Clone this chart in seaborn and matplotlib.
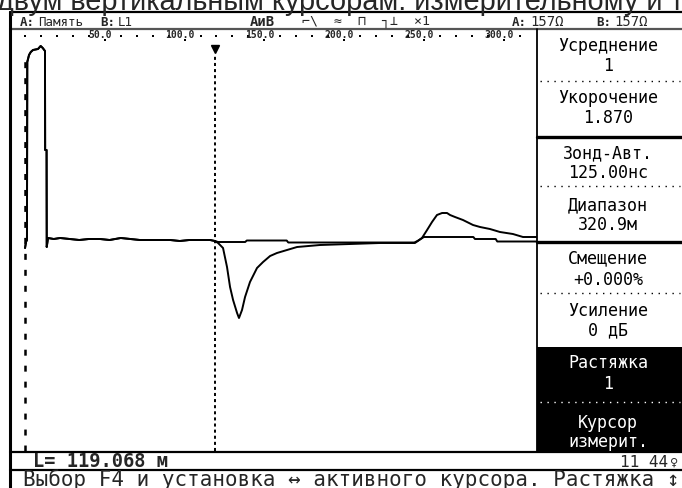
import numpy as np
import pandas as pd
import matplotlib
matplotlib.use("Agg")
import matplotlib.pyplot as plt
import matplotlib.transforms as mtransforms
from matplotlib.lines import Line2D
from matplotlib.patches import Rectangle
import seaborn as sns

W, H = 682, 488

# reflectogram: distance (m) and amplitude (screen units, baseline = 0)
pulse_dist = [0.0, 0.6, 1.2, 1.4, 2.5, 3.6, 5.0, 8.1, 9.8, 11.1, 12.5, 12.6, 13.5, 13.6, 14.4,
              18.0, 22.0, 28.0, 34.0, 40.0, 47.0, 53.0, 60.0, 66.0, 72.0, 78.0, 85.0, 91.0,
              97.0, 103.0, 110.0, 116.0, 119.0]
pulse_amp = [-8, -2, 0, 178, 185, 188, 190, 191, 194, 192, 189, 90, 90, -7, 2,
             1, 2, 1, 0, 1, 1, 0, 2, 1, 0, 0, 0, 0, -1, 0, 0, 0, -1]

tail_a_dist = [121.0, 124.1, 126.6, 128.5, 130.4, 132.9, 134.1, 136.0, 137.9, 141.0, 145.4,
               149.2, 153.6, 157.9, 164.2, 170.5, 184.9, 203.7, 222.5, 244.4, 248.8, 252.0,
               255.1, 258.2, 261.4, 264.5, 266.4, 269.5, 274.5, 280.8, 285.2, 291.4, 297.7,
               305.8, 312.1, 320.9]
tail_a_amp = [-3, -8, -27, -47, -60, -73, -78, -70, -57, -42, -28, -22, -16, -13, -10, -7,
              -5, -4, -3, -3, 2, 10, 18, 25, 27, 27, 25, 23, 20, 15, 13, 11, 8, 6, 3, 3]

tail_b_dist = [121.0, 138.0, 139.0, 164.0, 165.0, 244.0, 246.0, 250.0, 281.0, 282.0,
               295.0, 296.0, 320.9]
tail_b_amp = [-2, -2, -0.5, -0.5, -2.5, -2.5, -1, 3, 3, 1, 1, -1.5, -1.5]

cursor_m = 119.068
x_ticks = [50, 100, 150, 200, 250, 300]
x_labels = ["50.0", "100.0", "150.0", "200.0", "250.0", "300.0"]

menu_titles = ["Усреднение", "Укорочение", "Зонд-Авт.", "Диапазон",
               "Смещение", "Усиление", "Растяжка", "Курсор"]
menu_values = ["1", "1.870", "125.00нс", "320.9м", "+0.000%", "0 дБ", "1", "измерит."]

df = pd.concat([
    pd.DataFrame({"dist": pulse_dist + tail_a_dist, "amp": pulse_amp + tail_a_amp, "trace": "A"}),
    pd.DataFrame({"dist": pulse_dist + tail_b_dist, "amp": pulse_amp + tail_b_amp, "trace": "B"}),
])

sns.set_theme(style="white")
plt.rcParams["font.family"] = ["DejaVu Sans Mono", "DejaVu Sans"]
plt.rcParams["lines.scale_dashes"] = False

fig = plt.figure(figsize=(W / 100, H / 100), dpi=100)
fig.patch.set_facecolor("white")


def fx(x):
    return x / W


def fy(y):
    return 1 - y / H


def hline(y, x0, x1, lw=1.5, color="black", ls="-"):
    fig.add_artist(Line2D([fx(x0), fx(x1)], [fy(y), fy(y)], transform=fig.transFigure,
                          color=color, lw=lw, linestyle=ls))


def vline(x, y0, y1, lw=1.5, color="black"):
    fig.add_artist(Line2D([fx(x), fx(x)], [fy(y0), fy(y1)], transform=fig.transFigure,
                          color=color, lw=lw))


# main trace area
ax = fig.add_axes([fx(11), fy(451), fx(537) - fx(11), fy(30) - fy(451)])
ax.set_xlim(-8.8, 320.9)
ax.set_ylim(-211, 210)
ax.axis("off")

sns.lineplot(data=df, x="dist", y="amp", units="trace", estimator=None, sort=False,
             color="black", lw=1.4, ax=ax, legend=False)

ax.vlines(0, -211, 188, colors="black", lw=1.8, linestyles=[(0, (4.3, 7.2))])
ax.vlines(cursor_m, -211, 184, colors="black", lw=1.4, linestyles=[(0, (2.2, 2.2))])
ax.plot([cursor_m], [191], marker="v", ms=6, color="black", ls="none")

# distance scale at the top
lab_off = mtransforms.offset_copy(ax.transData, fig=fig, x=-5, y=0, units="dots")
for t, lab in zip(x_ticks, x_labels):
    ax.text(t, 205, lab, ha="center", va="center", fontsize=7, fontweight="bold",
            transform=lab_off)
minor = [m for m in np.arange(0, 320, 10) if m not in x_ticks]
ax.scatter(minor, [204] * len(minor), s=2, color="black", marker="s", lw=0)
ax.scatter(x_ticks, [200] * len(x_ticks), s=2, color="black", marker="s", lw=0)

# frame lines
hline(12, 10, W, lw=1.6)
hline(29, 10, W, lw=1.6, color="#555555")
hline(452, 10, W, lw=1.6)
hline(470, 10, W, lw=1.6)
vline(10, 12, H, lw=2.2)
vline(537, 29, 452, lw=1.3)

# right-hand menu
fig.add_artist(Rectangle((fx(537), fy(452)), fx(682) - fx(537), fy(347) - fy(452),
                         transform=fig.transFigure, color="black", lw=0))
title_y = [46, 98, 153, 205, 258, 311, 363, 423]
value_y = [66, 118, 173, 225, 280, 330, 384, 442]
for i, (t, v) in enumerate(zip(menu_titles, menu_values)):
    c = "white" if i >= 6 else "black"
    fig.text(fx(608), fy(title_y[i]), t, ha="center", va="center", fontsize=12, color=c)
    fig.text(fx(608), fy(value_y[i]), v, ha="center", va="center", fontsize=12, color=c)
for y in [81, 186, 293]:
    hline(y, 540, 680, lw=1.0, ls=(0, (1, 4)))
hline(402, 540, 680, lw=1.0, color="white", ls=(0, (1, 4)))
hline(137, 537, W, lw=2.4)
hline(242, 537, W, lw=2.4)

# header
fig.text(fx(-3), fy(9.5), "двум вертикальным курсорам: измерительному и т",
         fontsize=20.8, family="Liberation Sans", va="baseline", ha="left")
fig.text(fx(20), fy(22), "A:", fontsize=9, fontweight="bold", va="center")
fig.text(fx(38), fy(22), "Память", fontsize=9, va="center")
fig.text(fx(100), fy(22), "B:", fontsize=9, fontweight="bold", va="center")
fig.text(fx(118), fy(22), "L1", fontsize=9, va="center")
fig.text(fx(250), fy(22), "АиВ", fontsize=10, fontweight="bold", va="center")
fig.text(fx(302), fy(22), "⌐\\  ≈  ⊓  ┐⊥  ×1", fontsize=9.5, va="center")
fig.text(fx(512), fy(22), "A:", fontsize=9, fontweight="bold", va="center")
fig.text(fx(530), fy(22), "157Ω", fontsize=10, va="center")
fig.text(fx(596), fy(22), "B:", fontsize=9, fontweight="bold", va="center")
fig.text(fx(614), fy(22), "157Ω", fontsize=10, va="center")

# footer
fig.text(fx(33), fy(467), "L= 119.068 м", fontsize=13.5, fontweight="bold", va="baseline")
fig.text(fx(668), fy(467), "11 44", fontsize=11.5, va="baseline", ha="right")
fig.text(fx(670), fy(466), "♀", fontsize=8, va="baseline", family="DejaVu Sans")
fig.text(fx(23), fy(486), "Выбор F4 и установка ↔ активного курсора. Растяжка ↕",
         fontsize=15, va="baseline")

fig.savefig("out.png", dpi=100, facecolor="white")
